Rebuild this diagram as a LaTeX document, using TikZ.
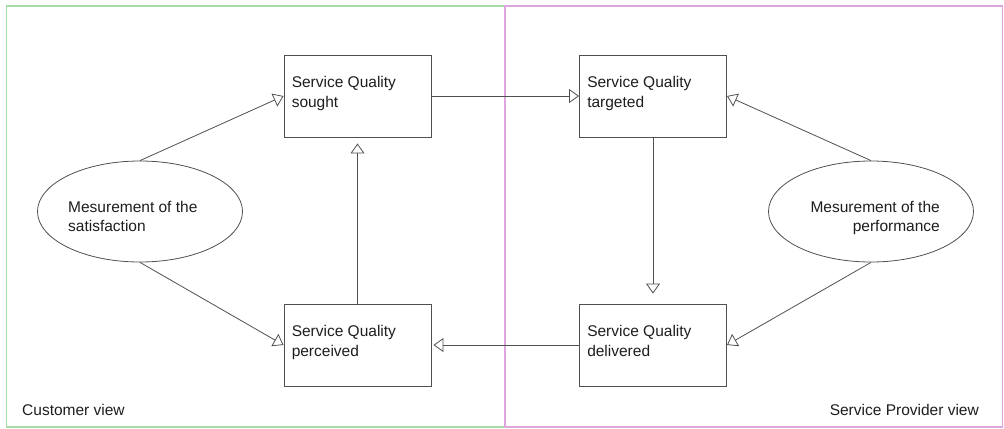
\documentclass[tikz,border=0pt]{standalone}
\usepackage{fontspec}
\setmainfont{Liberation Sans}
\usetikzlibrary{arrows.meta,shapes.geometric}
\definecolor{custgreen}{RGB}{165,222,165}
\definecolor{provpink}{RGB}{222,165,222}
\definecolor{edgegray}{RGB}{80,80,80}
\definecolor{inkgray}{RGB}{30,30,30}
\tikzset{
  qbox/.style={draw=edgegray, line width=0.9bp, minimum width=147bp, minimum height=82bp, inner sep=0pt},
  measure/.style={ellipse, draw=edgegray, line width=0.8bp, minimum width=205bp, minimum height=101bp, inner sep=0pt},
  txt/.style={text=inkgray, inner sep=0pt, font=\fontsize{15.5bp}{20bp}\selectfont},
  etxt/.style={text=inkgray, inner sep=0pt, font=\fontsize{15.5bp}{19bp}\selectfont},
  flow/.style={draw=edgegray, line width=0.8bp, -{Triangle[open, length=10bp, width=14bp]}},
  frame/.style={line width=1.8bp}
}
\newcommand{\twolines}[2]{\begin{tabular}[t]{@{}l@{}}#1\\#2\end{tabular}}
\newcommand{\twolinesr}[2]{\begin{tabular}[t]{@{}r@{}}#1\\#2\end{tabular}}
\begin{document}
\begin{tikzpicture}[x=1bp, y=-1bp]
  \useasboundingbox (0,0) rectangle (1004,428);
  \fill[white] (0,0) rectangle (1004,428);

  % view frames
  \draw[frame, custgreen] (6.5,6) rectangle (505,427);
  \draw[frame, provpink] (505,6) rectangle (1002.5,427);

  % quality boxes
  \node[qbox] (sought)    at (357.5,96)  {};
  \node[qbox] (targeted)  at (653,96)    {};
  \node[qbox] (perceived) at (357.5,345) {};
  \node[qbox] (delivered) at (653,345)   {};

  \node[txt, anchor=base west] (soughtT)    at ([shift={(8,33)}]sought.north west)    {\twolines{Service Quality}{sought}};
  \node[txt, anchor=base west] (targetedT)  at ([shift={(8,33)}]targeted.north west)  {\twolines{Service Quality}{targeted}};
  \node[txt, anchor=base west] (perceivedT) at ([shift={(8,33)}]perceived.north west) {\twolines{Service Quality}{perceived}};
  \node[txt, anchor=base west] (deliveredT) at ([shift={(8,33)}]delivered.north west) {\twolines{Service Quality}{delivered}};

  % measurement ellipses
  \node[measure] (satis) at (140,211.5) {};
  \node[measure] (perf)  at (871,211.5) {};
  \node[etxt, anchor=base west] (satisT) at (68,212)  {\twolines{Mesurement of the}{satisfaction}};
  \node[etxt, anchor=base east] (perfT)  at (940,212) {\twolinesr{Mesurement of the}{performance}};

  % view captions
  \node[txt, anchor=base west] (custview) at (22,415)  {Customer view};
  \node[txt, anchor=base east] (provview) at (979,415) {Service Provider view};

  % connectors (vertical ones stop short of the box they point at)
  \draw[flow] (satis.north)  -- (sought.west);
  \draw[flow] (satis.south)  -- (perceived.west);
  \draw[flow] (sought.east)  -- (targeted.west);
  \draw[flow] (targeted.south) -- ([yshift=10bp]delivered.north);
  \draw[flow] (delivered.west) -- ([xshift=2bp]perceived.east);
  \draw[flow] (perceived.north) -- ([yshift=-6bp]sought.south);
  \draw[flow] (perf.north)   -- (targeted.east);
  \draw[flow] (perf.south)   -- (delivered.east);
\end{tikzpicture}
\end{document}
